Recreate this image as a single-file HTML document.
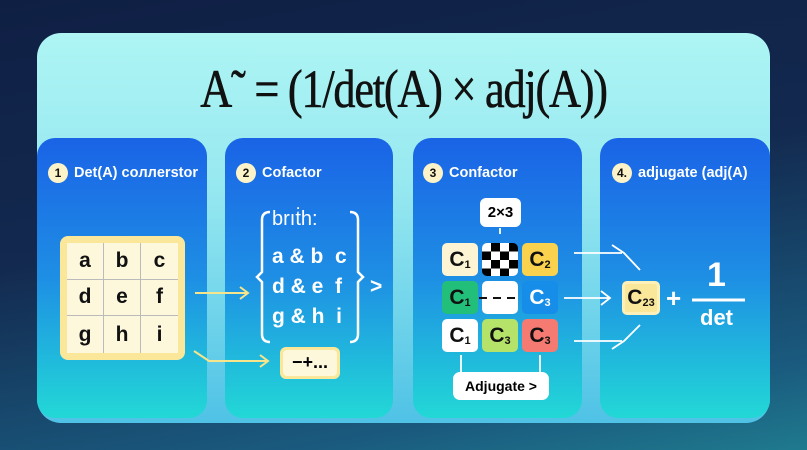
<!DOCTYPE html>
<html><head><meta charset="utf-8"><style>
*{margin:0;padding:0;box-sizing:border-box}
body{width:807px;height:450px;overflow:hidden;position:relative;font-family:"Liberation Sans",sans-serif;background:linear-gradient(170deg,#0f1f44 0%,#13294f 45%,#1a5a7e 85%,#1f7a8e 100%)}
.abs{position:absolute}
.panel{left:37px;top:33px;width:733px;height:390px;border-radius:24px;background:linear-gradient(180deg,#aef5f4 0%,#96e8f0 40%,#4fc2e6 100%)}
.title{left:0;width:807px;top:58px;text-align:center;font-family:"Liberation Serif",serif;font-size:54px;color:#111;transform:scaleX(.82);letter-spacing:-1.5px;-webkit-text-stroke:0.6px #111}
.card{top:138px;height:280px;border-radius:18px;background:linear-gradient(180deg,#1a63e6 0%,#1e8fe4 50%,#22d8d6 100%)}
.hd{top:163px;color:#fff;font-size:14.5px;font-weight:bold;display:flex;align-items:center;gap:6px;white-space:nowrap}
.num{width:20px;height:20px;border-radius:50%;background:#fdf3c8;color:#111;font-size:12px;display:flex;align-items:center;justify-content:center}
.mat{left:60px;top:236px;width:125px;height:124px;border-radius:8px;background:#fbe79a;padding:7px}
.grid{width:111px;height:110px;background:#fdf7dc;display:grid;grid-template-columns:repeat(3,1fr);grid-template-rows:repeat(3,1fr)}
.grid div{display:flex;align-items:center;justify-content:center;font-size:21px;font-weight:bold;color:#111;border-right:1px solid #bbb;border-bottom:1px solid #bbb}
.w{color:#fff;font-size:21px;font-weight:bold}
.cc{width:36px;height:33px;border-radius:5px;display:flex;align-items:center;justify-content:center;font-size:21px;font-weight:bold;color:#111}
.cc sub{font-size:11px;position:relative;top:5px}
</style></head><body>
<div class="abs panel"></div>
<div class="abs title">A˜ = (1/det(A) × adj(A))</div>
<div class="abs card" style="left:37px;width:170px"></div>
<div class="abs card" style="left:225px;width:168px"></div>
<div class="abs card" style="left:413px;width:169px"></div>
<div class="abs card" style="left:600px;width:170px"></div>
<div class="abs hd" style="left:48px"><span class="num">1</span>Det(A) coллerstor</div>
<div class="abs hd" style="left:236px"><span class="num">2</span>Cofactor</div>
<div class="abs hd" style="left:423px"><span class="num">3</span>Confactor</div>
<div class="abs hd" style="left:612px"><span class="num">4.</span>adjugate (adj(A)</div>
<div class="abs mat"><div class="grid"><div>a</div><div>b</div><div style="border-right:0">c</div><div>d</div><div>e</div><div style="border-right:0">f</div><div style="border-bottom:0">g</div><div style="border-bottom:0">h</div><div style="border:0">i</div></div></div>
<div class="abs w" style="left:272px;top:208px;font-weight:normal;font-size:20px">brıṫh:</div>
<div class="abs w" style="left:272px;top:245px">a &amp; b&nbsp; c</div>
<div class="abs w" style="left:272px;top:275px">d &amp; e&nbsp; f</div>
<div class="abs w" style="left:272px;top:305px">g &amp; h&nbsp; i</div>
<div class="abs w" style="left:370px;top:275px">&gt;</div>
<div class="abs" style="left:280px;top:347px;width:60px;height:32px;border-radius:6px;background:#fbe79a;padding:3px"><div style="background:#fdf7dc;height:100%;border-radius:4px;font-weight:bold;font-size:18px;text-align:center;line-height:25px">−+...</div></div>
<div class="abs" style="left:480px;top:198px;width:41px;height:29px;border-radius:6px;background:#fff;font-weight:bold;font-size:15px;text-align:center;line-height:29px">2×3</div>
<div class="abs cc" style="left:442px;top:243px;background:#fdf4d4">C<sub>1</sub></div>
<div class="abs" style="left:482px;top:243px;width:36px;height:33px;border-radius:5px;background:conic-gradient(#000 25%,#fff 0 50%,#000 0 75%,#fff 0) 0 0/18px 17px"></div>
<div class="abs cc" style="left:522px;top:243px;background:#fbd24e">C<sub>2</sub></div>
<div class="abs cc" style="left:442px;top:281px;background:#22bf7a">C<sub>1</sub></div>
<div class="abs cc" style="left:482px;top:281px;background:#fff"></div>
<div class="abs cc" style="left:522px;top:281px;background:#168de8;color:#fff">C<sub>3</sub></div>
<div class="abs cc" style="left:442px;top:319px;background:#fff">C<sub>1</sub></div>
<div class="abs cc" style="left:482px;top:319px;background:#b5e36a">C<sub>3</sub></div>
<div class="abs cc" style="left:522px;top:319px;background:#f47a72">C<sub>3</sub></div>
<div class="abs" style="left:453px;top:372px;width:96px;height:28px;border-radius:7px;background:#fff;font-weight:bold;font-size:14px;text-align:center;line-height:28px">Adjugate &gt;</div>
<div class="abs cc" style="left:622px;top:281px;width:38px;height:34px;background:#fbe79a;border:3px solid #fdf0b8">C<sub>23</sub></div>
<div class="abs w" style="left:666px;top:283px;font-size:26px">+</div>
<div class="abs w" style="left:707px;top:256px;font-size:34px">1</div>
<div class="abs w" style="left:700px;top:305px;font-size:22px">det</div>
<svg class="abs" style="left:0;top:0" width="807" height="450">
<g stroke="#f6e58a" stroke-width="2" fill="none"><path d="M195 293H248M240 287l8 6-8 6"/><path d="M194 351l15 10H268M260 355l8 6-8 6"/></g>
<g stroke="#fff" stroke-width="2.5" fill="none"><path d="M270 212q-8 0-8 8v52l-5 5 5 5v52q0 8 8 8"/><path d="M350 212q8 0 8 8v52l5 5-5 5v52q0 8-8 8"/></g>
<g stroke="#fff" stroke-width="1.8" fill="none"><path d="M574 253H622M612 245L624 253L640 270"/><path d="M564 298H610M601 291l9 7-9 7"/><path d="M574 341H622M612 349L624 341L640 325"/><path d="M461 355v17M540 355v17"/><path d="M500 228v6"/></g>
<path d="M479 298H520" stroke="#111" stroke-width="2" stroke-dasharray="8 6"/>
<path d="M692 300H745" stroke="#fff" stroke-width="3"/>
</svg>
</body></html>
